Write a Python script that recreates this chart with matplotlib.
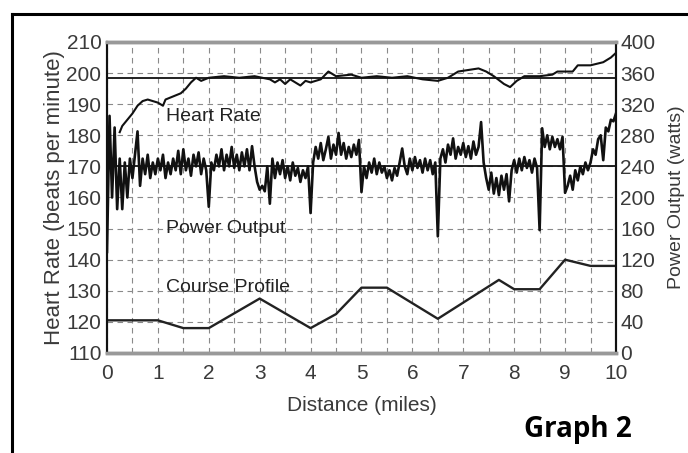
import numpy as np
import matplotlib
matplotlib.use('Agg')
from matplotlib import pyplot as plt
from matplotlib.lines import Line2D

# power output (watts), one reading every 0.05 mile, 0.00 .. 10.00
power_w = [
    130, 305, 200, 290, 185, 250, 185, 245, 200, 250, 225, 255, 285, 215, 250, 230, 255, 225, 245, 230,
    250, 235, 255, 225, 245, 230, 250, 235, 260, 230, 262, 235, 250, 228, 255, 240, 258, 230, 250, 235,
    188, 245, 235, 255, 240, 262, 235, 255, 240, 265, 238, 255, 235, 258, 240, 262, 235, 266, 240, 220,
    210, 215, 208, 240, 192, 250, 225, 245, 230, 248, 225, 240, 222, 245, 228, 238, 220, 235, 225, 240,
    180, 245, 265, 250, 270, 248, 262, 278, 250, 268, 255, 283, 255, 270, 250, 265, 252, 268, 255, 274,
    207, 240, 225, 245, 232, 250, 230, 245, 232, 240, 225, 235, 222, 238, 228, 245, 263, 240, 230, 250,
    235, 252, 238, 248, 232, 250, 235, 248, 230, 245, 150, 250, 262, 245, 268, 255, 276, 250, 265, 255,
    270, 252, 266, 250, 272, 255, 265, 297, 245, 225, 210, 232, 205, 225, 203, 228, 210, 230, 195, 235,
    248, 232, 250, 235, 252, 238, 248, 232, 250, 238, 158, 289, 265, 280, 262, 278, 265, 275, 262, 278,
    206, 215, 228, 210, 235, 222, 240, 230, 245, 235, 245, 262, 255, 275, 280, 248, 290, 285, 300, 298,
    308,
]
power_dist = np.linspace(0, 10, len(power_w))

# heart rate (bpm)
hr_dist = [0.25, 0.3, 0.4, 0.5, 0.6, 0.7, 0.8, 0.9, 1.0, 1.1, 1.15, 1.3, 1.45, 1.55, 1.65, 1.75,
           1.85, 2.0, 2.3, 2.6, 2.9, 3.2, 3.3, 3.4, 3.5, 3.6, 3.7, 3.8, 3.9, 4.0, 4.2, 4.35, 4.5,
           4.8, 5.0, 5.3, 5.6, 5.9, 6.2, 6.5, 6.7, 6.9, 7.1, 7.3, 7.45, 7.6, 7.8, 7.92, 8.05,
           8.2, 8.5, 8.75, 8.85, 9.15, 9.25, 9.5, 9.75, 9.9, 10.0]
hr_bpm = [181, 183, 185, 187, 189.5, 191, 191.5, 191, 190.5, 189.5, 191.5, 192.5, 193.5, 195, 197, 198.5,
          197.5, 198.5, 199, 198.5, 199, 198, 197, 198, 196.5, 198, 197, 196, 197.5, 197, 198, 200.5, 199,
          199.5, 198.5, 199, 198.5, 199, 198, 197.5, 198.5, 200.5, 201, 201.5, 200.5, 199, 196.5, 195.5, 197.5,
          199, 199, 199.5, 200.5, 200.5, 202.5, 202.5, 203.5, 205, 206.5]

# course profile (drawn on the heart rate scale)
course_dist = [0, 1, 1.5, 2, 3, 4, 4.5, 5, 5.5, 6.5, 7.7, 8, 8.5, 9, 9.5, 10]
course_val = [120.5, 120.5, 118, 118, 127.5, 118, 122.5, 131, 131, 121, 133.5, 130.5, 130.5, 140, 138, 138]

ref_hr = [198.5, 170]

plt.rcParams['font.family'] = ['Liberation Sans', 'DejaVu Sans']
txt = '#3a3a3a'

fig = plt.figure(figsize=(6.88, 4.53), dpi=100)
ax = fig.add_axes([0.1555, 0.2208, 0.7398, 0.6865])
ax2 = ax.twinx()

ax.set_xlim(0, 10)
ax.set_ylim(110, 210)
ax2.set_ylim(0, 400)

ax.set_xticks(range(0, 11))
ax.set_xticks(np.arange(0.5, 10, 1), minor=True)
ax.set_yticks(range(110, 211, 10))
ax2.set_yticks(range(0, 401, 40))
ax.grid(True, which='both', axis='x', color='#8a8a8a', ls=(0, (5, 4)), lw=0.8)
ax.grid(True, which='major', axis='y', color='#8a8a8a', ls=(0, (5, 4)), lw=0.8)

for y in ref_hr:
    ax.axhline(y, color='#111111', lw=1.3, zorder=3)

ax2.plot(power_dist, power_w, color='#111111', lw=1.9, zorder=4)
ax.plot(hr_dist, hr_bpm, color='#111111', lw=1.5, zorder=4)
ax.plot(course_dist, course_val, color='#222222', lw=1.7, zorder=4)

ax.text(1.15, 186, 'Heart Rate', fontsize=14, color='#222222', va='center')
ax.text(1.15, 150, 'Power Output', fontsize=14, color='#222222', va='center')
ax.text(1.15, 131, 'Course Profile', fontsize=14, color='#222222', va='center')

ax.tick_params(axis='y', length=0, labelsize=15, labelcolor=txt, pad=4)
ax.tick_params(axis='x', which='both', length=0, labelsize=15, labelcolor=txt, pad=8)
ax2.tick_params(axis='y', length=0, labelsize=15, labelcolor=txt, pad=3)
ax.set_xlabel('Distance (miles)', fontsize=15, color=txt, labelpad=9)
ax.set_ylabel('Heart Rate (beats per minute)', fontsize=16, color=txt, labelpad=1)
ax2.set_ylabel('Power Output (watts)', fontsize=14, color=txt, labelpad=9)

for a in (ax, ax2):
    a.spines['top'].set_color('#999999')
    a.spines['top'].set_linewidth(2.5)
    a.spines['bottom'].set_color('#999999')
    a.spines['bottom'].set_linewidth(2.5)
    a.spines['left'].set_color('#111111')
    a.spines['left'].set_linewidth(1.5)
    a.spines['right'].set_color('#111111')
    a.spines['right'].set_linewidth(1.5)

# outer frame (left and top only)
fig.add_artist(Line2D([12 / 688, 12 / 688], [0, 1 - 14 / 453], color='black', lw=2.2))
fig.add_artist(Line2D([12 / 688, 1], [1 - 14 / 453, 1 - 14 / 453], color='black', lw=2.2))

fig.text(578 / 688, 1 - 430 / 453, 'Graph 2', fontsize=20, fontweight='bold',
         family=['Open Sans', 'DejaVu Sans'], ha='center', va='center', color='black')

fig.savefig('out.png', dpi=100)
